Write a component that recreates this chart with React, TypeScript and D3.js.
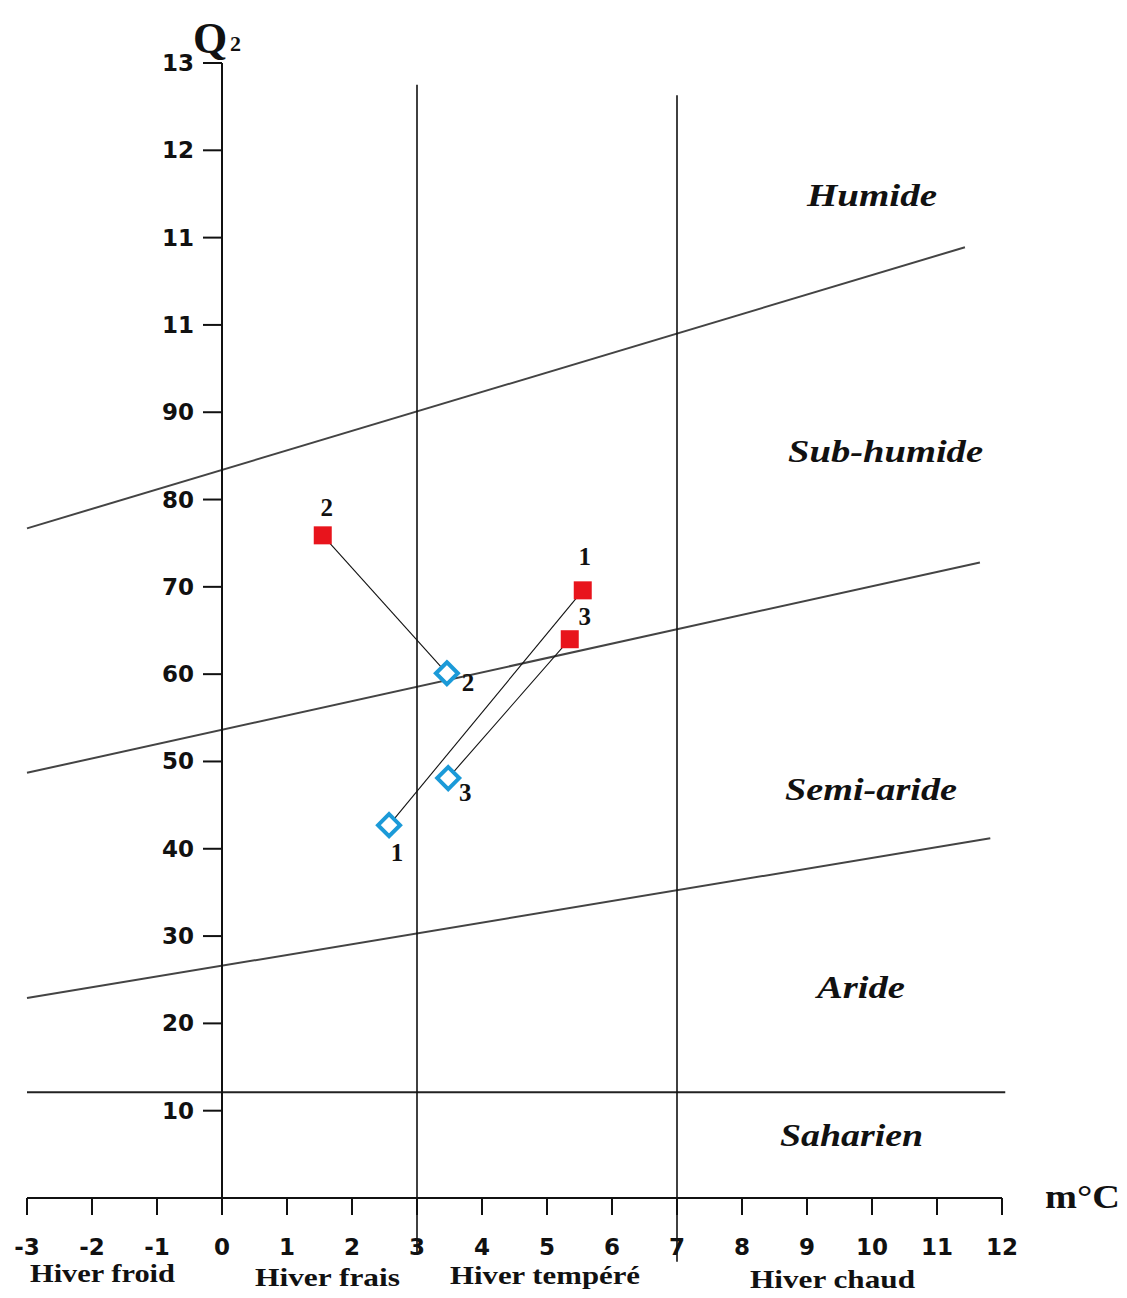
import React from "react";
import * as d3 from "d3";

// ---- Data ----
const xTicks = [-3, -2, -1, 0, 1, 2, 3, 4, 5, 6, 7, 8, 9, 10, 11, 12];
const yTickValues = [0, 10, 20, 30, 40, 50, 60, 70, 80, 90, 100, 110, 120, 130];
const yTickLabels = ["", "10", "20", "30", "40", "50", "60", "70", "80", "90", "11", "11", "12", "13"];

// Station ids
const stations = ["1", "2", "3"];
// Period A (red filled squares): m (°C), Q2
const periodA_m = [5.55, 1.55, 5.35];
const periodA_Q = [69.6, 75.9, 64.0];
// Period B (blue hollow diamonds)
const periodB_m = [2.57, 3.46, 3.48];
const periodB_Q = [42.7, 60.1, 48.1];

// Bioclimatic boundaries: [m1, Q1, m2, Q2]
const boundaryNames = ["Humide/Sub-humide", "Sub-humide/Semi-aride", "Semi-aride/Aride", "Aride/Saharien"];
const boundaryLines: number[][] = [
  [-3, 76.7, 11.43, 108.9],
  [-3, 48.7, 11.66, 72.8],
  [-3, 22.9, 11.82, 41.2],
  [-3, 12.1, 12.05, 12.1],
];

// Winter-type separators (m = 3, m = 7): [m, Qtop, Qbottom]
const winterSeparators: number[][] = [
  [3, 127.5, -6.2],
  [7, 126.3, -7.3],
];

const zoneLabels = ["Humide", "Sub-humide", "Semi-aride", "Aride", "Saharien"];
const winterLabels = ["Hiver froid", "Hiver frais", "Hiver tempéré", "Hiver chaud"];

// ---- Layout / style (not data) ----
const W = 1127;
const H = 1298;
const zoneStyle = [
  { x: 807, y: 206, w: 130 },
  { x: 788, y: 462, w: 195 },
  { x: 785, y: 800, w: 172 },
  { x: 817, y: 998, w: 88 },
  { x: 780, y: 1146, w: 143 },
];
const winterStyle = [
  { x: 30, y: 1282, w: 145 },
  { x: 255, y: 1286, w: 145 },
  { x: 450, y: 1284, w: 190 },
  { x: 750, y: 1288, w: 165 },
];
const labelOffsetA = [
  [2, -25],
  [4, -19],
  [15, -14],
];
const labelOffsetB = [
  [8, 36],
  [21, 18],
  [17, 23],
];

const RED = "#e8141c";
const BLUE = "#1b9ad8";
const tickFont = "'DejaVu Sans', sans-serif";
const serif = "'Liberation Serif', 'Times New Roman', serif";

export default function App() {
  const x = d3.scaleLinear().domain([-3, 12]).range([27, 1002]);
  const y = d3.scaleLinear().domain([0, 130]).range([1198, 63]);
  const line = d3
    .line<[number, number]>()
    .x((d) => x(d[0]))
    .y((d) => y(d[1]));

  const sq = 18;
  const dia = 11;

  return (
    <svg
      width={W}
      height={H}
      viewBox={`0 0 ${W} ${H}`}
      style={{ position: "absolute", left: 0, top: 0, background: "#fff" }}
    >
      <rect x={0} y={0} width={W} height={H} fill="#fff" />

      {/* boundary lines */}
      {boundaryLines.map((b, i) => (
        <path
          key={boundaryNames[i]}
          d={line([
            [b[0], b[1]],
            [b[2], b[3]],
          ]) as string}
          stroke={i === 3 ? "#222" : "#444"}
          strokeWidth={2}
          fill="none"
        />
      ))}

      {/* winter separators */}
      {winterSeparators.map((s, i) => (
        <line
          key={i}
          x1={x(s[0])}
          x2={x(s[0])}
          y1={y(s[1])}
          y2={y(s[2])}
          stroke="#111"
          strokeWidth={1.6}
        />
      ))}

      {/* y axis */}
      <line x1={x(0)} x2={x(0)} y1={y(130)} y2={y(0)} stroke="#111" strokeWidth={2} />
      {yTickValues.map((v, i) => (
        <g key={v}>
          <line x1={x(0) - 19} x2={x(0)} y1={y(v)} y2={y(v)} stroke="#111" strokeWidth={2} />
          <text
            x={194}
            y={y(v) + 8}
            textAnchor="end"
            fontFamily={tickFont}
            fontWeight="bold"
            fontSize={23}
            fill="#111"
          >
            {yTickLabels[i]}
          </text>
        </g>
      ))}

      {/* x axis */}
      <line x1={x(-3)} x2={x(12)} y1={y(0)} y2={y(0)} stroke="#111" strokeWidth={2} />
      {xTicks.map((t) => (
        <g key={t}>
          <line x1={x(t)} x2={x(t)} y1={y(0)} y2={y(0) + 17} stroke="#111" strokeWidth={2} />
          <text
            x={x(t)}
            y={1255}
            textAnchor="middle"
            fontFamily={tickFont}
            fontWeight="bold"
            fontSize={23}
            fill="#111"
          >
            {t}
          </text>
        </g>
      ))}

      {/* axis titles */}
      <text x={193} y={53} fontFamily={serif} fontWeight="bold" fontSize={44} fill="#111">
        Q
      </text>
      <text x={230} y={51} fontFamily={serif} fontWeight="bold" fontSize={22} fill="#111">
        2
      </text>
      <text
        x={1045}
        y={1208}
        fontFamily={serif}
        fontWeight="bold"
        fontSize={34}
        fill="#111"
        textLength={75}
        lengthAdjust="spacingAndGlyphs"
      >
        m°C
      </text>

      {/* connecting lines */}
      {stations.map((s, i) => (
        <line
          key={"c" + s}
          x1={x(periodA_m[i])}
          y1={y(periodA_Q[i])}
          x2={x(periodB_m[i])}
          y2={y(periodB_Q[i])}
          stroke="#111"
          strokeWidth={1.1}
        />
      ))}

      {/* period A markers */}
      {stations.map((s, i) => (
        <g key={"a" + s}>
          <rect
            x={x(periodA_m[i]) - sq / 2}
            y={y(periodA_Q[i]) - sq / 2}
            width={sq}
            height={sq}
            fill={RED}
          />
          <text
            x={x(periodA_m[i]) + labelOffsetA[i][0]}
            y={y(periodA_Q[i]) + labelOffsetA[i][1]}
            textAnchor="middle"
            fontFamily={serif}
            fontWeight="bold"
            fontSize={25}
            fill="#111"
          >
            {s}
          </text>
        </g>
      ))}

      {/* period B markers */}
      {stations.map((s, i) => {
        const cx = x(periodB_m[i]);
        const cy = y(periodB_Q[i]);
        return (
          <g key={"b" + s}>
            <path
              d={`M${cx},${cy - dia} L${cx + dia},${cy} L${cx},${cy + dia} L${cx - dia},${cy} Z`}
              fill="#fff"
              stroke={BLUE}
              strokeWidth={4}
            />
            <text
              x={cx + labelOffsetB[i][0]}
              y={cy + labelOffsetB[i][1]}
              textAnchor="middle"
              fontFamily={serif}
              fontWeight="bold"
              fontSize={25}
              fill="#111"
            >
              {s}
            </text>
          </g>
        );
      })}

      {/* zone labels */}
      {zoneLabels.map((z, i) => (
        <text
          key={z}
          x={zoneStyle[i].x}
          y={zoneStyle[i].y}
          fontFamily={serif}
          fontWeight="bold"
          fontStyle="italic"
          fontSize={32}
          fill="#111"
          textLength={zoneStyle[i].w}
          lengthAdjust="spacingAndGlyphs"
        >
          {z}
        </text>
      ))}

      {/* winter labels */}
      {winterLabels.map((w, i) => (
        <text
          key={w}
          x={winterStyle[i].x}
          y={winterStyle[i].y}
          fontFamily={serif}
          fontWeight="bold"
          fontSize={26}
          fill="#111"
          textLength={winterStyle[i].w}
          lengthAdjust="spacingAndGlyphs"
        >
          {w}
        </text>
      ))}
    </svg>
  );
}
